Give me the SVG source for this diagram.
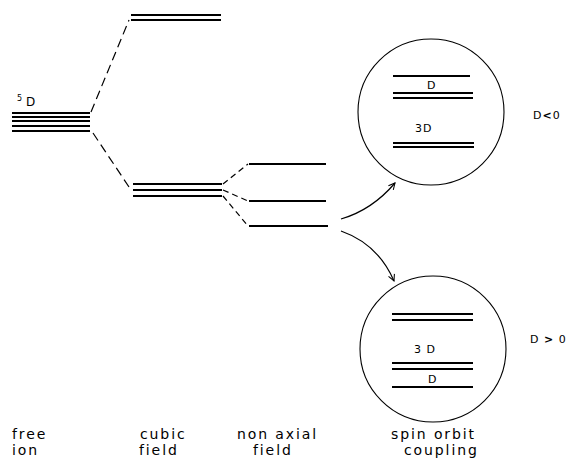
<svg xmlns="http://www.w3.org/2000/svg" width="575" height="464" viewBox="0 0 575 464">
<defs>
<marker id="arr" viewBox="0 0 10 10" refX="9" refY="5" markerWidth="8" markerHeight="8" markerUnits="userSpaceOnUse" orient="auto">
<path d="M1,1 L9,5 L1,9" fill="none" stroke="#000" stroke-width="1.3"/>
</marker>
<style>
.lv{stroke:#000;stroke-width:2;fill:none}
.ds{stroke:#000;stroke-width:1.2;stroke-dasharray:9,5;fill:none}
.ds2{stroke:#000;stroke-width:1.2;stroke-dasharray:6,4;fill:none}
.cir{stroke:#000;stroke-width:1.1;fill:none}
.ar{stroke:#000;stroke-width:1.2;fill:none}
.lab{font-family:"DejaVu Sans",sans-serif;font-size:14px;letter-spacing:1.9px;fill:#000}
.sm{font-family:"DejaVu Sans",sans-serif;font-size:11px;letter-spacing:1px;fill:#000}
</style>
</defs>
<rect width="575" height="464" fill="#fff"/>
<g id="free-ion">
<line class="lv" x1="12" y1="113" x2="90" y2="113"/>
<line class="lv" x1="12" y1="117" x2="90" y2="117"/>
<line class="lv" x1="12" y1="121" x2="90" y2="121"/>
<line class="lv" x1="12" y1="126" x2="90" y2="126"/>
<line class="lv" x1="12" y1="131" x2="90" y2="131"/>
<text class="sm" x="17" y="101" style="font-size:8px">5</text>
<text class="sm" x="26" y="106" style="font-size:12px">D</text>
</g>
<g id="cubic-upper">
<line class="lv" x1="131" y1="15" x2="221" y2="15"/>
<line class="lv" x1="131" y1="20" x2="221" y2="20"/>
</g>
<g id="cubic-lower">
<line class="lv" x1="133" y1="184" x2="222" y2="184"/>
<line class="lv" x1="133" y1="190" x2="222" y2="190"/>
<line class="lv" x1="133" y1="196" x2="222" y2="196"/>
</g>
<g id="non-axial">
<line class="lv" x1="249" y1="164" x2="326" y2="164"/>
<line class="lv" x1="249" y1="201" x2="326" y2="201"/>
<line class="lv" x1="249" y1="226" x2="328" y2="226"/>
</g>
<g id="spin-orbit-neg">
<circle class="cir" cx="431" cy="112" r="73"/>
<line class="lv" x1="393" y1="76" x2="470" y2="76"/>
<line class="lv" x1="393" y1="93" x2="473" y2="93"/>
<line class="lv" x1="393" y1="98" x2="473" y2="98"/>
<line class="lv" x1="393" y1="143" x2="474" y2="143"/>
<line class="lv" x1="393" y1="147" x2="474" y2="147"/>
<text class="sm" x="427" y="89">D</text>
<text class="sm" x="415" y="132">3D</text>
</g>
<g id="spin-orbit-pos">
<circle class="cir" cx="433" cy="349" r="73"/>
<line class="lv" x1="392" y1="314" x2="473" y2="314"/>
<line class="lv" x1="392" y1="320" x2="473" y2="320"/>
<line class="lv" x1="392" y1="363" x2="473" y2="363"/>
<line class="lv" x1="392" y1="369" x2="473" y2="369"/>
<line class="lv" x1="392" y1="387" x2="473" y2="387"/>
<text class="sm" x="414" y="353">3 D</text>
<text class="sm" x="428" y="383">D</text>
</g>
<g id="connectors">
<line class="ds" x1="91" y1="112" x2="129" y2="20"/>
<line class="ds" x1="93" y1="133" x2="129" y2="187"/>
<line class="ds2" x1="223" y1="184" x2="248" y2="164"/>
<line class="ds2" x1="223" y1="190" x2="248" y2="201"/>
<line class="ds2" x1="223" y1="196" x2="248" y2="226"/>
<path class="ar" d="M341,219 Q372,210 395,183" marker-end="url(#arr)"/>
<path class="ar" d="M341,231 Q378,244 394,281" marker-end="url(#arr)"/>
</g>
<g id="labels">
<text class="sm" x="533" y="119">D<tspan font-weight="bold">&lt;</tspan>0</text>
<text class="sm" x="530" y="343">D <tspan font-weight="bold">&gt;</tspan> 0</text>
<text class="lab" x="12" y="439">free</text>
<text class="lab" x="12" y="455">ion</text>
<text class="lab" x="140" y="439">cubic</text>
<text class="lab" x="139" y="455">field</text>
<text class="lab" x="237" y="439">non axial</text>
<text class="lab" x="253" y="455">field</text>
<text class="lab" x="391" y="439">spin orbit</text>
<text class="lab" x="404" y="455">coupling</text>
</g>
</svg>
